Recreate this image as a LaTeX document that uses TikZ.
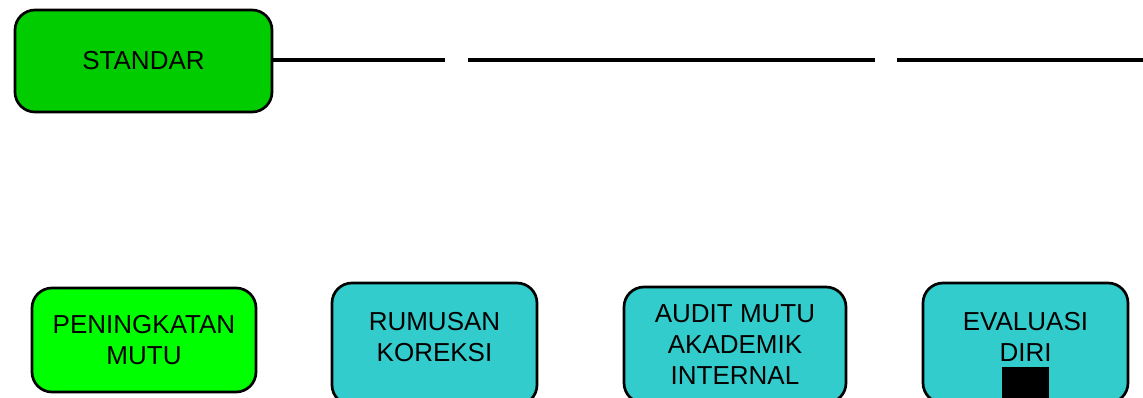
\documentclass[tikz,border=0pt]{standalone}
\usepackage{fontspec}
\setmainfont{Liberation Sans}
\usepackage{tikz}
\usetikzlibrary{calc}

\definecolor{stdgreen}{HTML}{00CC00}
\definecolor{litegreen}{HTML}{00FF00}
\definecolor{tealbox}{HTML}{33CCCC}

\begin{document}
\begin{tikzpicture}[x=1pt, y=-1pt,
    box/.style = {draw, line width=2.7pt, rounded corners=20pt, align=center,
                  font=\fontsize{26}{31}\selectfont, inner sep=0pt}]
  \tikzset{every node/.style={anchor=center, text centered}}
  \useasboundingbox (0,0) rectangle (1143,398);
  \clip (0,0) rectangle (1143,398);
  % top box and its line
  \node [box, fill=stdgreen, minimum width=257pt, minimum height=102pt] (standar) at (143.5,61) {STANDAR};
  \coordinate (g1a) at (445,60);
  \coordinate (g1b) at (468,60);
  \coordinate (g2a) at (875,60);
  \coordinate (g2b) at (897,60);
  \coordinate (lineend) at (1143,60);
  \draw [line width=3.2pt] (standar.east |- g1a) -- (g1a);
  \draw [line width=3.2pt] (g1b) -- (g2a);
  \draw [line width=3.2pt] (g2b) -- (lineend);
  % bottom row
  \node [box, fill=litegreen, minimum width=224pt, minimum height=104pt] (peningkatan) at (144,340) {PENINGKATAN\\MUTU};
  \node [box, fill=tealbox, minimum width=205pt, minimum height=122pt, text depth=14pt] (rumusan) at (434.5,344) {RUMUSAN\\KOREKSI};
  \node [box, fill=tealbox, minimum width=222pt, minimum height=116pt] (audit) at (735,345) {AUDIT MUTU\\AKADEMIK\\INTERNAL};
  \node [box, fill=tealbox, minimum width=205pt, minimum height=120pt, text depth=13pt] (evaluasi) at (1025.5,343) {EVALUASI\\DIRI};
  \fill [black] (1002,367) rectangle (1049,398);
\end{tikzpicture}
\end{document}
